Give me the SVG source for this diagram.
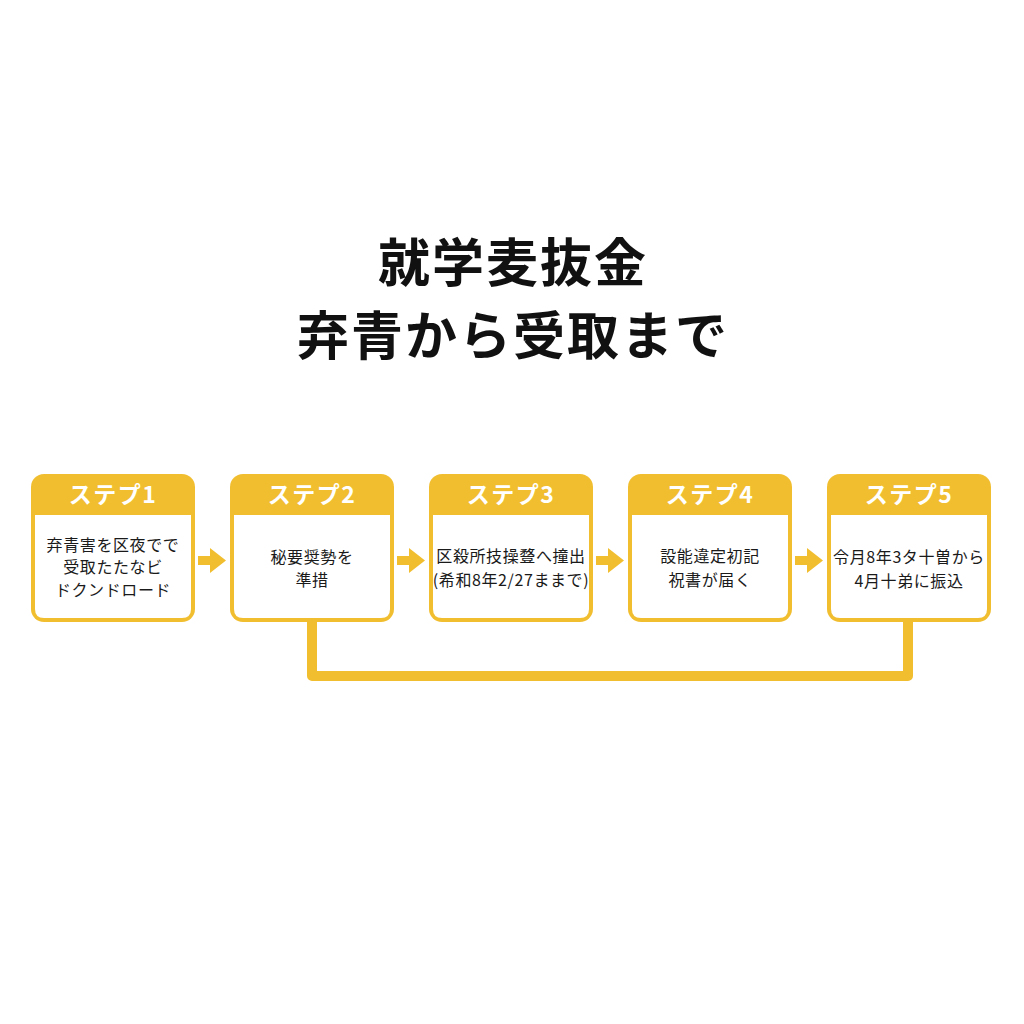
<svg xmlns="http://www.w3.org/2000/svg" width="1024" height="1024" viewBox="0 0 1024 1024">
<defs>
<style>
.title{font-family:"Noto Sans CJK JP","Noto Sans",sans-serif;font-size:52px;font-weight:700;fill:#111;text-anchor:middle;letter-spacing:2px}
.head{font-family:"Noto Sans CJK JP","Noto Sans",sans-serif;font-size:23px;font-weight:700;fill:#fff;text-anchor:middle;letter-spacing:1.5px}
.body{font-family:"Noto Sans CJK JP","Noto Sans",sans-serif;font-size:16px;font-weight:400;fill:#1a1a1a;text-anchor:middle;letter-spacing:0.6px}
.frame{fill:#F1BE30}
.inner{fill:#fff}
.arrow{fill:#F1BE30}
.conn{fill:none;stroke:#F1BE30;stroke-width:10;stroke-linejoin:round;stroke-linecap:butt}
</style>
</defs>
<rect width="1024" height="1024" fill="#fff"/>
<g id="title">
<text class="title" x="513" y="282">就学麦抜金</text>
<text class="title" x="513" y="355">弃青から受取まで</text>
</g>
<g id="connectors">
<path class="conn" d="M312 620 V676 H908 V620"/>
<path class="arrow" d="M198 556 H210 V548 L226 560.5 L210 573 V565 H198 Z"/>
<path class="arrow" d="M397 556 H409 V548 L425 560.5 L409 573 V565 H397 Z"/>
<path class="arrow" d="M596 556 H608 V548 L624 560.5 L608 573 V565 H596 Z"/>
<path class="arrow" d="M795 556 H807 V548 L823 560.5 L807 573 V565 H795 Z"/>
</g>
<g id="step1">
<rect class="frame" x="31" y="474" width="164" height="148" rx="13"/>
<path class="inner" d="M35 515 H191 V609 Q191 618 182 618 H44 Q35 618 35 609 Z"/>
<text class="head" x="113" y="503">ステプ1</text>
<text class="body" x="113" y="551">弃青害を区夜でで</text>
<text class="body" x="113" y="573">受取たたなビ</text>
<text class="body" x="113" y="596">ドクンドロード</text>
</g>
<g id="step2">
<rect class="frame" x="230" y="474" width="164" height="148" rx="13"/>
<path class="inner" d="M234 515 H390 V609 Q390 618 381 618 H243 Q234 618 234 609 Z"/>
<text class="head" x="312" y="503">ステプ2</text>
<text class="body" x="312" y="563">秘要奨勢を</text>
<text class="body" x="312" y="586">準措</text>
</g>
<g id="step3">
<rect class="frame" x="429" y="474" width="164" height="148" rx="13"/>
<path class="inner" d="M433 515 H589 V609 Q589 618 580 618 H442 Q433 618 433 609 Z"/>
<text class="head" x="511" y="503">ステプ3</text>
<text class="body" x="511" y="562" letter-spacing="0">区殺所技操䜼へ撞出</text>
<text class="body" x="511" y="586" letter-spacing="0">(希和8年2/27ままで)</text>
</g>
<g id="step4">
<rect class="frame" x="628" y="474" width="164" height="148" rx="13"/>
<path class="inner" d="M632 515 H788 V609 Q788 618 779 618 H641 Q632 618 632 609 Z"/>
<text class="head" x="710" y="503">ステプ4</text>
<text class="body" x="710" y="562">設能違定初記</text>
<text class="body" x="710" y="586">祝書が届く</text>
</g>
<g id="step5">
<rect class="frame" x="827" y="474" width="164" height="148" rx="13"/>
<path class="inner" d="M831 515 H987 V609 Q987 618 978 618 H840 Q831 618 831 609 Z"/>
<text class="head" x="909" y="503">ステプ5</text>
<text class="body" x="909" y="563" letter-spacing="0">令月8年3タ十曽から</text>
<text class="body" x="909" y="587">4月十弟に振込</text>
</g>
</svg>
